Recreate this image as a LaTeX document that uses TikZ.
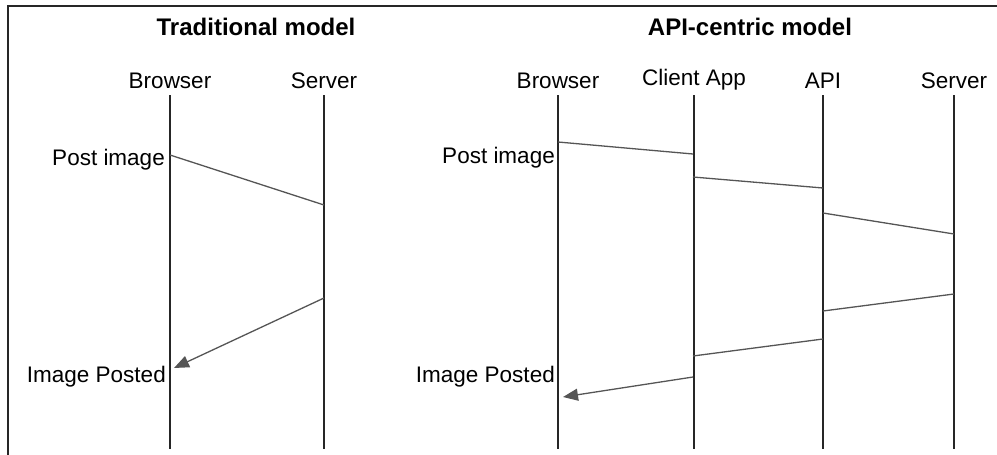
\documentclass[tikz,border=0pt]{standalone}
\usepackage{fontspec}
\setmainfont{Liberation Sans}
\usetikzlibrary{arrows.meta, positioning}
\definecolor{clrLife}{HTML}{262626}
\definecolor{clrMsg}{HTML}{555555}

\begin{document}
\begin{tikzpicture}[x=1pt, y=-1pt,
  lbl/.style={font=\fontsize{22.5}{26}\selectfont, inner sep=0pt, anchor=base},
  side/.style={lbl, anchor=base east},
  ttl/.style={font=\fontsize{24}{28}\selectfont\bfseries, inner sep=0pt, anchor=base},
  life/.style={draw=clrLife, line width=1.6pt},
  msg/.style={draw=clrMsg, line width=1.3pt},
  ret/.style={msg, -{Triangle[length=15pt, width=12pt]}}]
  \useasboundingbox (0,0) rectangle (997,455);
  \draw[life] (997,6) -- (8,6) -- (8,455);

  \node[ttl] (ttrad) at (256,35) {Traditional model};
  \node[ttl] (tapi) at (750,35) {API-centric model};

  % lifelines
  \foreach \n/\x/\y/\t in {lb/170/88/Browser, ls/324/88/Server,
      rb/558/88/Browser, rc/694/85/Client App, ra/823/88/API, rs/954/88/Server} {
    \node[lbl] (\n) at (\x,\y) {\t};
    \coordinate (\n top) at (\x,95);
    \coordinate (\n bot) at (\x,449);
    \draw[life] (\n top) -- (\n bot);
  }

  % message end points
  \foreach \n/\x/\y in {p1/170/155, p2/324/205, p3/324/298, p4/174/368,
      q1/558/142, q2/693/154, q3/693/177, q4/823/188, q5/823/213, q6/954/234,
      q7/954/294, q8/823/311, q9/823/339, q10/693/356, q11/693/377, q12/563/397}
    \coordinate (\n) at (\x,\y);

  \draw[msg] (p1) -- (p2);
  \draw[ret] (p3) -- (p4);
  \draw[msg] (q1) -- (q2);
  \draw[msg] (q3) -- (q4);
  \draw[msg] (q5) -- (q6);
  \draw[msg] (q7) -- (q8);
  \draw[msg] (q9) -- (q10);
  \draw[ret] (q11) -- (q12);

  \node[side] (postl) at (165,165) {Post image};
  \node[side] (donel) at (166,382) {Image Posted};
  \node[side] (postr) at (555,163) {Post image};
  \node[side] (doner) at (555,382) {Image Posted};
\end{tikzpicture}
\end{document}
